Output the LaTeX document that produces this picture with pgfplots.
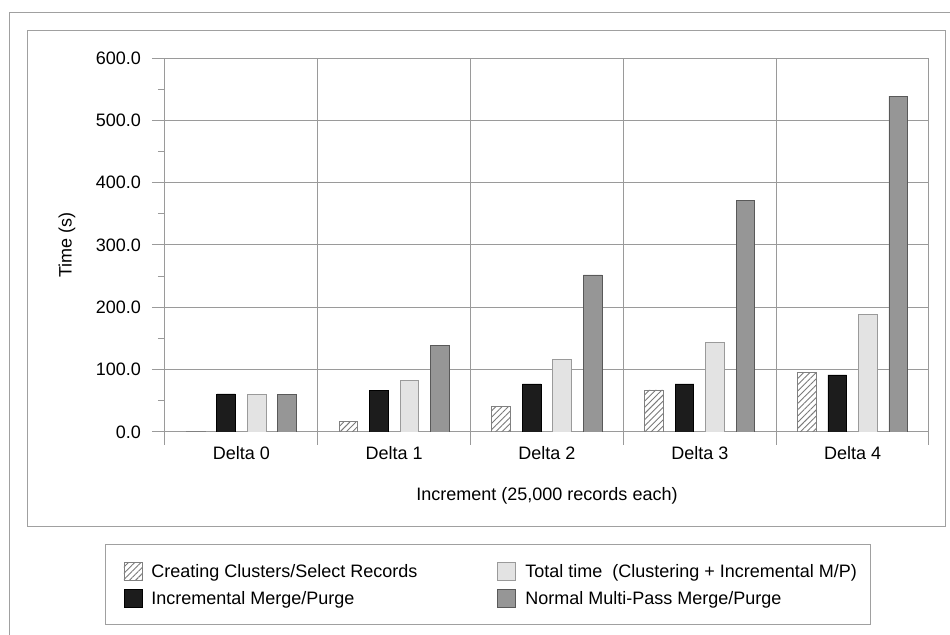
\documentclass[border=0pt]{standalone}
\usepackage{fontspec}
\setmainfont{Liberation Sans}
\usepackage{pgfplots}
\pgfplotsset{compat=1.18}
\usetikzlibrary{patterns.meta}
\definecolor{framec}{HTML}{A0A0A0}
\definecolor{gridc}{HTML}{9A9A9A}
\definecolor{barblack}{HTML}{1C1C1C}
\definecolor{barlight}{HTML}{E3E3E3}
\definecolor{bargray}{HTML}{969696}
\definecolor{hatchc}{HTML}{7A7A7A}
\pgfplotsset{mylegend/.style={legend image code/.code={%
  \path[draw=none,fill=none,pattern=none] (0pt,-2pt) rectangle (13.75pt,8.9pt);
  \draw[##1] (0pt,-1.3pt) rectangle (9pt,7.7pt);}}}
\begin{document}
\begin{tikzpicture}[font=\fontsize{9}{10.8}\selectfont]
\begin{scope}[x=0.5pt,y=-0.5pt]
\useasboundingbox (0,0) rectangle (950,635);
\fill[white] (0,0) rectangle (950,635);
\draw[framec, line width=0.5pt] (9,640) -- (9,13) -- (955,13);
\draw[framec, line width=0.5pt] (27,31) rectangle (945,527);
\end{scope}
\begin{axis}[
  at={(82.5pt,-216pt)}, anchor=south west,
  scale only axis, width=382pt, height=187pt,
  xmin=-0.5, xmax=4.5, ymin=0, ymax=600,
  ybar, bar width=9.35pt,
  axis line style={draw=gridc, line width=0.5pt},
  tick align=outside, tick pos=left,
  every tick/.style={draw=gridc, line width=0.5pt},
  major tick length=6.5pt, minor tick length=3.5pt,
  xtick={-0.5,0.5,1.5,2.5,3.5,4.5}, xticklabels={},
  extra x ticks={0,1,2,3,4},
  extra x tick labels={Delta 0,Delta 1,Delta 2,Delta 3,Delta 4},
  extra x tick style={major tick length=0pt, grid=none, xticklabel style={yshift=-3.75pt}},
  ytick={0,100,...,600}, minor y tick num=1,
  xmajorgrids, ymajorgrids,
  major grid style={draw=gridc, line width=0.5pt},
  /pgf/number format/assume math mode=true,
  yticklabel style={/pgf/number format/fixed, /pgf/number format/fixed zerofill, /pgf/number format/precision=1, xshift=-2pt},
  scaled y ticks=false,
  xlabel={Increment (25,000 records each)},
  xlabel style={at={(axis description cs:0.5,-0.1711)}, anchor=center},
  ylabel={Time (s)},
  ylabel style={at={(axis description cs:-0.1283,0.5)}, anchor=center, rotate=0},
  legend columns=2,
  legend cell align=left,
  legend style={at={(-0.0785,-0.2995)}, anchor=north west, draw=framec, line width=0.5pt,
    inner xsep=9pt, inner ysep=7.8pt, row sep=2.6pt, column sep=0pt,
    nodes={inner sep=0pt, text height=2pt, text depth=2pt}},
]
\addplot[mylegend, bar shift=-22.875pt, draw=gray, line width=0.4pt, pattern={Lines[angle=45, distance=2.2pt, line width=0.45pt]}, pattern color=hatchc]
  coordinates {(0,1) (1,16.5) (2,41.5) (3,67.5) (4,96)};
\addlegendentry{\makebox[173pt][l]{Creating Clusters/Select Records}}
\addplot[mylegend, bar shift=7.625pt, draw=gridc, line width=0.4pt, fill=barlight]
  coordinates {(0,60.5) (1,83) (2,117) (3,144) (4,188)};
\addlegendentry{\makebox[163.5pt][l]{Total time\ \ (Clustering + Incremental M/P)}}
\addplot[mylegend, bar shift=-7.625pt, draw=black, line width=0.4pt, fill=barblack]
  coordinates {(0,61) (1,67) (2,77) (3,77) (4,91.5)};
\addlegendentry{\makebox[173pt][l]{Incremental Merge/Purge}}
\addplot[mylegend, bar shift=22.875pt, draw=black!65, line width=0.4pt, fill=bargray]
  coordinates {(0,60.5) (1,139.5) (2,252) (3,372) (4,539)};
\addlegendentry{\makebox[163.5pt][l]{Normal Multi-Pass Merge/Purge}}
\end{axis}
\end{tikzpicture}
\end{document}
